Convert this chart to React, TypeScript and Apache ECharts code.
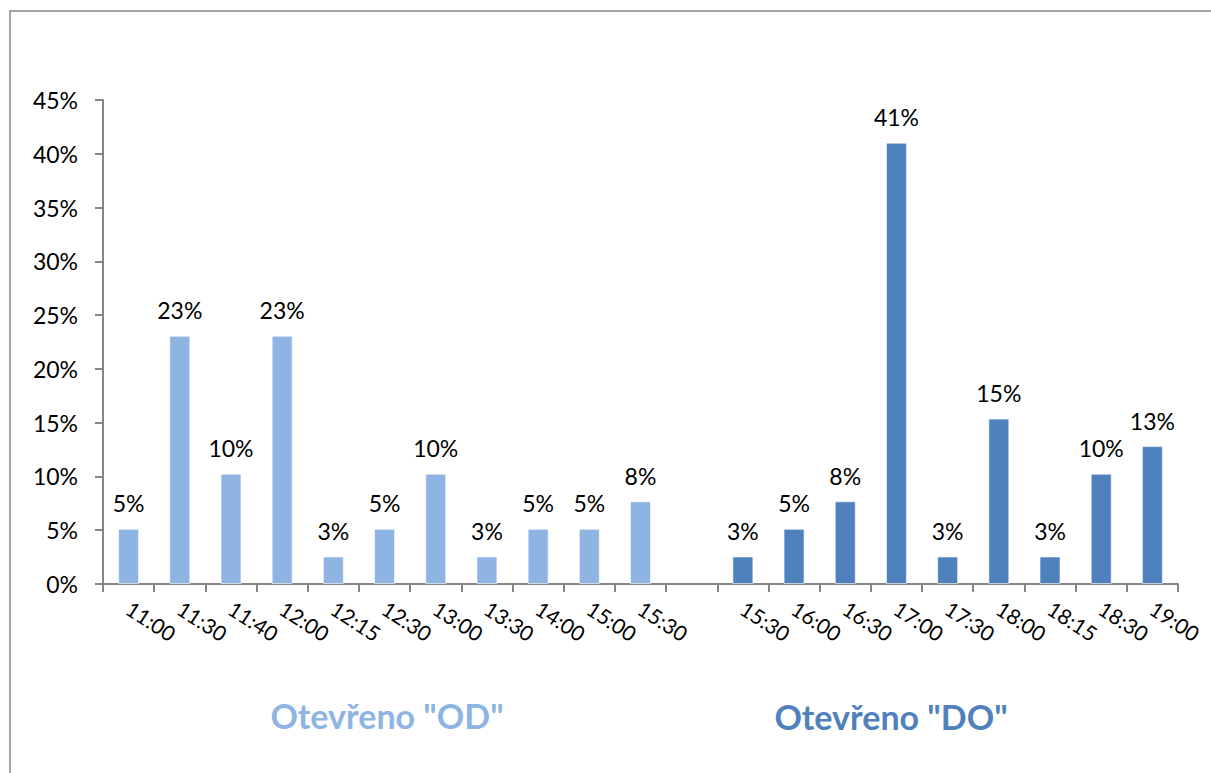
import React, { useEffect, useRef } from "react";
import * as echarts from "echarts";

const odTimes = ["11:00", "11:30", "11:40", "12:00", "12:15", "12:30", "13:00", "13:30", "14:00", "15:00", "15:30"];
const odValues = [5.13, 23.08, 10.26, 23.08, 2.56, 5.13, 10.26, 2.56, 5.13, 5.13, 7.69];
const doTimes = ["15:30", "16:00", "16:30", "17:00", "17:30", "18:00", "18:15", "18:30", "19:00"];
const doValues = [2.56, 5.13, 7.69, 41.03, 2.56, 15.38, 2.56, 10.26, 12.82];
const groupLabels = ['Otevřeno "OD"', 'Otevřeno "DO"'];
const yTicks = { min: 0, max: 45, interval: 5 };

const LIGHT = "#8EB4E3";
const DARK = "#4F81BD";
const FONT = "Lato, 'Noto Sans', sans-serif";

export default function App() {
  const ref = useRef<HTMLDivElement>(null);
  useEffect(() => {
    if (!ref.current) return;
    const chart = echarts.init(ref.current, undefined, { renderer: "svg" });
    const categories = [...odTimes, "", ...doTimes];
    const data: any[] = [
      ...odValues.map((v) => ({ value: v, itemStyle: { color: LIGHT } })),
      { value: "-" },
      ...doValues.map((v) => ({ value: v, itemStyle: { color: DARK } })),
    ];
    chart.setOption({
      animation: false,
      backgroundColor: "#ffffff",
      textStyle: { fontFamily: FONT },
      grid: { left: 103, right: 33, top: 100, bottom: 189, containLabel: false },
      graphic: [
        {
          type: "rect",
          shape: { x: 10, y: 11, width: 1230, height: 800 },
          style: { fill: "none", stroke: "#878787", lineWidth: 1.5 },
          silent: true,
        },
        {
          type: "text",
          x: 387,
          y: 715,
          style: {
            text: groupLabels[0],
            fill: LIGHT,
            font: `bold 34px ${FONT}`,
            textAlign: "center",
            textVerticalAlign: "middle",
          },
        },
        {
          type: "text",
          x: 891,
          y: 716,
          style: {
            text: groupLabels[1],
            fill: DARK,
            font: `bold 34px ${FONT}`,
            textAlign: "center",
            textVerticalAlign: "middle",
          },
        },
      ],
      xAxis: {
        type: "category",
        data: categories,
        boundaryGap: true,
        axisLine: { show: true, lineStyle: { color: "#868686", width: 2 } },
        axisTick: { show: true, interval: 0, length: 8, lineStyle: { color: "#868686", width: 2 } },
        axisLabel: {
          interval: 0,
          rotate: -33,
          margin: 22,
          fontSize: 21,
          color: "#000000",
          fontFamily: FONT,
        },
      },
      yAxis: {
        type: "value",
        min: yTicks.min,
        max: yTicks.max,
        interval: yTicks.interval,
        axisLine: { show: true, lineStyle: { color: "#868686", width: 2 } },
        axisTick: { show: true, length: 8, lineStyle: { color: "#868686", width: 2 } },
        splitLine: { show: false },
        axisLabel: {
          formatter: "{value}%",
          margin: 25,
          fontSize: 23,
          color: "#000000",
          fontFamily: FONT,
        },
      },
      series: [
        {
          type: "bar",
          data,
          barWidth: 21,
          itemStyle: { borderColor: "rgba(255,255,255,0.6)", borderWidth: 1 },
          label: {
            show: true,
            position: "top",
            distance: 14,
            fontSize: 23,
            color: "#000000",
            fontFamily: FONT,
            formatter: (p: any) => `${Math.round(p.value)}%`,
          },
        },
      ],
    });
    return () => chart.dispose();
  }, []);
  return (
    <div
      ref={ref}
      style={{ position: "fixed", left: 0, top: 0, width: 1211, height: 773, background: "#fff" }}
    />
  );
}
